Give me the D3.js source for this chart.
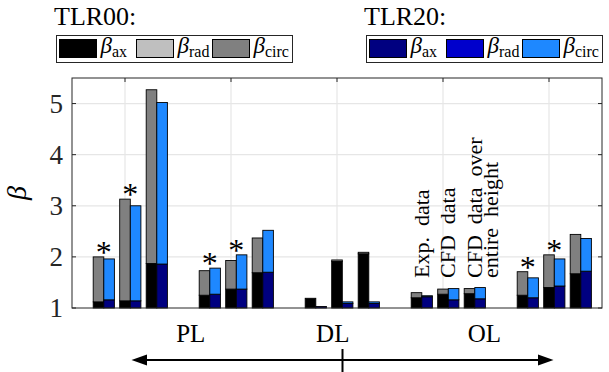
<!DOCTYPE html>
<html><head><meta charset="utf-8">
<script src="https://cdn.jsdelivr.net/npm/d3@7"></script>
<style>
html,body{margin:0;padding:0;background:#fff;}
svg{display:block;font-family:"Liberation Serif","DejaVu Serif",serif;}
</style></head>
<body><svg id="c" width="609" height="372"></svg>
<script>
// ---- data ----
const positions = [0.8,1.05,1.3, 1.8,2.05,2.3, 2.8,3.05,3.3, 3.8,4.05,4.3, 4.8,5.05,5.3];
// increments above beta = 1 (stacked: ax, rad, circ)
const tlr00_ax   = [0.12,0.14,0.87,0.25,0.37,0.69,0.19,0.91,1.06,0.20,0.27,0.28,0.25,0.40,0.67];
const tlr00_rad  = [0,0,0,0,0,0,0,0,0,0,0,0,0,0,0];
const tlr00_circ = [0.88,1.99,3.40,0.48,0.56,0.68,0,0.03,0.03,0.10,0.10,0.10,0.46,0.64,0.77];
const tlr20_ax   = [0.16,0.14,0.86,0.27,0.37,0.70,0.03,0.09,0.09,0.22,0.16,0.18,0.20,0.43,0.72];
const tlr20_rad  = [0,0,0,0,0,0,0,0,0,0,0,0,0,0,0];
const tlr20_circ = [0.80,1.86,3.16,0.51,0.67,0.82,0,0.03,0.03,0.02,0.22,0.22,0.39,0.53,0.64];
const starred = [0,1,3,4,12,13];
const yTicks = [1,2,3,4,5];
const xTicks = [1,2,3,4,5];
const regionLabels = ["PL","DL","OL"];
const regionPos = [1.62,2.96,4.39];
const noteLabels = [["Exp.\u00a0\u00a0data"],["CFD\u00a0\u00a0data"],["CFD\u00a0\u00a0data\u00a0\u00a0over","entire\u00a0\u00a0height"]];
const notePairs = [9,10,11];
const seriesNames = ["ax","rad","circ"];
const colors00 = ["#000000","#bfbfbf","#808080"];
const colors20 = ["#000080","#0000cc","#1e88ff"];

// ---- chart ----
const svg = d3.select("#c");
const L=72,R=602,T=78,B=308;
const x = d3.scaleLinear().domain([0.5,5.5]).range([L,R]);
const y = d3.scaleLinear().domain([1,5.5]).range([B,T]);
const bw = x(0.1)-x(0);

// grid
svg.append("g").selectAll("line").data(xTicks).join("line")
  .attr("x1",d=>x(d)).attr("x2",d=>x(d)).attr("y1",T).attr("y2",B)
  .attr("stroke","#e6e6e6").attr("stroke-width",1.2);
svg.append("g").selectAll("line").data(yTicks.slice(1)).join("line")
  .attr("x1",L).attr("x2",R).attr("y1",d=>y(d)).attr("y2",d=>y(d))
  .attr("stroke","#e6e6e6").attr("stroke-width",1.2);

function drawSet(ax,rad,circ,colors,dx){
  const rows = positions.map((p,i)=>({p, ax:ax[i], rad:rad[i], circ:circ[i]}));
  const st = d3.stack().keys(seriesNames)(rows);
  st.forEach((layer,k)=>{
    svg.append("g").selectAll("rect").data(layer.filter(d=>d[1]-d[0]>0)).join("rect")
      .attr("x",d=>x(d.data.p+dx))
      .attr("width",bw)
      .attr("y",d=>y(1+d[1]))
      .attr("height",d=>y(1+d[0])-y(1+d[1]))
      .attr("fill",colors[k]).attr("stroke","#000").attr("stroke-width",0.9);
  });
}
drawSet(tlr00_ax,tlr00_rad,tlr00_circ,colors00,-0.1);
drawSet(tlr20_ax,tlr20_rad,tlr20_circ,colors20,0);

// asterisks
svg.append("g").selectAll("text").data(starred).join("text")
  .attr("x",i=>x(positions[i]))
  .attr("y",i=>y(1+Math.max(tlr00_ax[i]+tlr00_rad[i]+tlr00_circ[i], tlr20_ax[i]+tlr20_rad[i]+tlr20_circ[i]))+6)
  .attr("text-anchor","middle").attr("font-size",32).text("*");

// axes box + ticks
const ax = svg.append("g").attr("stroke","#262626").attr("stroke-width",1);
ax.append("rect").attr("x",L).attr("y",T).attr("width",R-L).attr("height",B-T).attr("fill","none");
yTicks.forEach(t=>{
  ax.append("line").attr("x1",L).attr("x2",L+4).attr("y1",y(t)).attr("y2",y(t));
  ax.append("line").attr("x1",R).attr("x2",R-4).attr("y1",y(t)).attr("y2",y(t));
});
xTicks.forEach(t=>{
  ax.append("line").attr("x1",x(t)).attr("x2",x(t)).attr("y1",T).attr("y2",T+4);
});
svg.append("g").selectAll("text").data(yTicks).join("text")
  .attr("x",L-9).attr("y",d=>y(d)).attr("dy","0.35em")
  .attr("text-anchor","end").attr("font-size",27).attr("fill","#262626").text(d=>d);

// y label
svg.append("text").attr("transform",`translate(26,${(T+B)/2}) rotate(-90)`)
  .attr("text-anchor","middle").attr("font-size",28).attr("font-style","italic").text("β");

// rotated notes
noteLabels.forEach((lines,j)=>{
  const cx = x(positions[notePairs[j]]);
  lines.forEach((s,k)=>{
    svg.append("text")
      .attr("transform",`translate(${cx+7+k*16},278) rotate(-90)`)
      .attr("font-size",22).attr("text-anchor","start").text(s);
  });
});

// region labels
svg.append("g").selectAll("text").data(regionLabels).join("text")
  .attr("x",(d,i)=>x(regionPos[i])).attr("y",342)
  .attr("text-anchor","middle").attr("font-size",25).text(d=>d);
// arrow
svg.append("line").attr("x1",140).attr("x2",545).attr("y1",360).attr("y2",360)
  .attr("stroke","#000").attr("stroke-width",2);
svg.append("path").attr("d","M131.5,360 L147,354.5 L147,365.5 Z").attr("fill","#000");
svg.append("path").attr("d","M553.5,360 L538,354.5 L538,365.5 Z").attr("fill","#000");
svg.append("line").attr("x1",342.5).attr("x2",342.5).attr("y1",349).attr("y2",372)
  .attr("stroke","#000").attr("stroke-width",2);

// legends
function legend(x0,title,colors){
  const g = svg.append("g");
  g.append("text").attr("x",x0-2).attr("y",25).attr("font-size",26).text(title);
  g.append("rect").attr("x",x0+0.5).attr("y",35.5).attr("width",236).attr("height",27)
    .attr("fill","#fff").attr("stroke","#262626").attr("stroke-width",1);
  const sx=[3.5,80.5,156.5];
  seriesNames.forEach((n,k)=>{
    g.append("rect").attr("x",x0+sx[k]).attr("y",39.5).attr("width",37).attr("height",18)
      .attr("fill",colors[k]).attr("stroke","#000").attr("stroke-width",1);
    const t = g.append("text").attr("x",x0+sx[k]+41).attr("y",53);
    t.append("tspan").attr("font-size",23).attr("font-style","italic").text("β");
    t.append("tspan").attr("font-size",16).attr("dy",4).text(n);
  });
}
legend(56,"TLR00:",colors00);
legend(366,"TLR20:",colors20);
</script></body></html>
